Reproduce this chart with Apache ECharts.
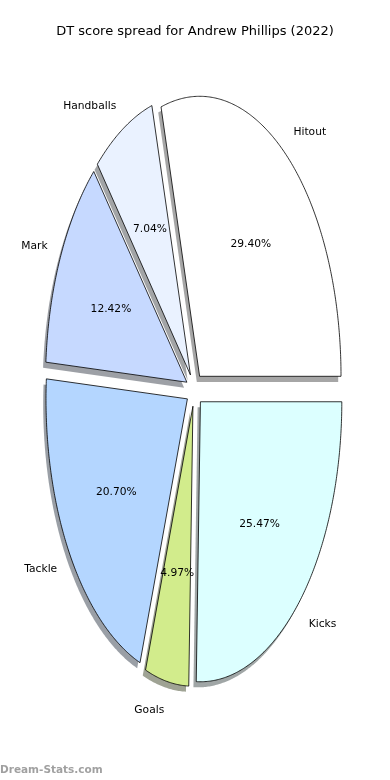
<!DOCTYPE html>
<html>
<head>
<meta charset="utf-8">
<script src="https://cdn.jsdelivr.net/npm/echarts@6/dist/echarts.min.js"></script>
<style>
html,body{margin:0;padding:0;background:#fff;}
#chart{width:390px;height:780px;}
</style>
</head>
<body>
<div id="chart"></div>
<script>
// ---- data ----
const categories = ['Hitout', 'Handballs', 'Mark', 'Tackle', 'Goals', 'Kicks'];
const percentages = [29.40, 7.04, 12.42, 20.70, 4.97, 25.47];
const titleText = 'DT score spread for Andrew Phillips (2022)';
const watermark = 'Dream-Stats.com';

// ---- styles / layout ----
const palette = ['#ffffff', '#eaf2ff', '#c6d9ff', '#b4d6ff', '#d2ec8c', '#dcffff'];
const CX = 194.5, CY = 389.7, RX = 141.4, RY = 280;
const EXPLODE = 0.06, LABEL_D = 1.1, PCT_D = 0.6;
const SH_DX = -2.8, SH_DY = 5.6;
const TEXT_DY = 1.5;
const FONT = '"DejaVu Sans", sans-serif';

const total = percentages.reduce((a, b) => a + b, 0);
const starts = [];
let acc = 0;
percentages.forEach(v => { starts.push(acc); acc += v; });

function geom(i) {
  const a0 = starts[i] / total * 2 * Math.PI;
  const a1 = (starts[i] + percentages[i]) / total * 2 * Math.PI;
  const am = (a0 + a1) / 2;
  const ox = CX + EXPLODE * RX * Math.cos(am);
  const oy = CY - EXPLODE * RY * Math.sin(am);
  const pts = [[ox, oy]];
  const n = Math.max(4, Math.ceil((a1 - a0) / (Math.PI / 360)));
  for (let k = 0; k <= n; k++) {
    const a = a0 + (a1 - a0) * k / n;
    pts.push([ox + RX * Math.cos(a), oy - RY * Math.sin(a)]);
  }
  return { a0, a1, am, ox, oy, pts };
}

function hexToRgb(h) {
  const n = parseInt(h.slice(1), 16);
  return [(n >> 16) & 255, (n >> 8) & 255, n & 255];
}

const chart = echarts.init(document.getElementById('chart'), null, { renderer: 'canvas' });
chart.setOption({
  animation: false,
  backgroundColor: '#ffffff',
  title: {
    text: titleText,
    left: 'center',
    top: 20,
    textStyle: { fontFamily: FONT, fontSize: 13, fontWeight: 'normal', color: '#000' }
  },
  graphic: [{
    type: 'text',
    left: 0,
    top: 765,
    style: { text: watermark, fill: 'rgba(120,120,120,0.7)', fontFamily: FONT, fontSize: 10.5, fontWeight: 'bold' }
  }],
  series: [
    {
      type: 'custom',
      coordinateSystem: 'none',
      z: 1,
      data: percentages.map(v => [v]),
      renderItem: function (params, api) {
        const i = params.dataIndex;
        const g = geom(i);
        const rgb = hexToRgb(palette[i]);
        return {
          type: 'polygon',
          shape: { points: g.pts.map(p => [p[0] + SH_DX, p[1] + SH_DY]) },
          style: { fill: 'rgba(' + Math.round(rgb[0] * 0.3) + ',' + Math.round(rgb[1] * 0.3) + ',' + Math.round(rgb[2] * 0.3) + ',0.5)', stroke: null }
        };
      }
    },
    {
      type: 'custom',
      coordinateSystem: 'none',
      z: 2,
      data: percentages.map(v => [v]),
      renderItem: function (params, api) {
        const i = params.dataIndex;
        const g = geom(i);
        const c = Math.cos(g.am), s = Math.sin(g.am);
        const lx = g.ox + LABEL_D * RX * c, ly = g.oy - LABEL_D * RY * s + TEXT_DY;
        const px = g.ox + PCT_D * RX * c, py = g.oy - PCT_D * RY * s + TEXT_DY;
        return {
          type: 'group',
          children: [
            {
              type: 'polygon',
              shape: { points: g.pts },
              style: { fill: palette[i], stroke: '#000', lineWidth: 0.8, lineJoin: 'miter' }
            },
            {
              type: 'text',
              z2: 10,
              style: {
                x: lx, y: ly, text: categories[i], fill: '#000',
                fontFamily: FONT, fontSize: 10.7,
                align: c < 0 ? 'right' : 'left', verticalAlign: 'middle'
              }
            },
            {
              type: 'text',
              z2: 10,
              style: {
                x: px, y: py, text: api.value(0).toFixed(2) + '%', fill: '#000',
                fontFamily: FONT, fontSize: 10.7,
                align: 'center', verticalAlign: 'middle'
              }
            }
          ]
        };
      }
    }
  ]
});
</script>
</body>
</html>
